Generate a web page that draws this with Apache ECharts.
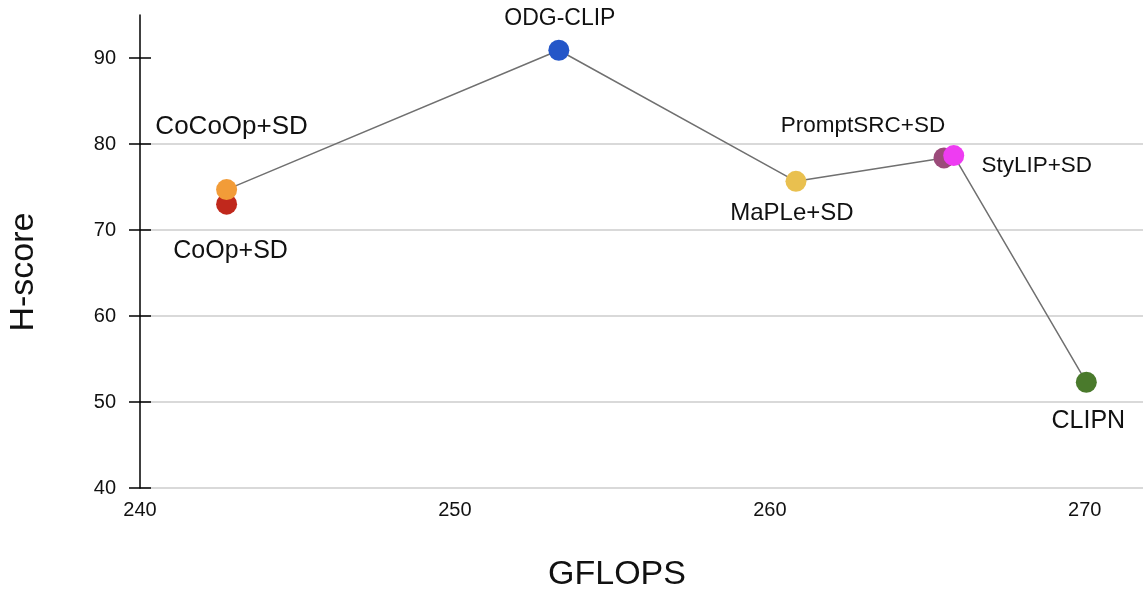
<!DOCTYPE html>
<html>
<head>
<meta charset="utf-8">
<script src="https://cdn.jsdelivr.net/npm/echarts@6/dist/echarts.min.js"></script>
<style>
html,body{margin:0;padding:0;background:#fff;}
#chart{width:1143px;height:592px;}
</style>
</head>
<body>
<div id="chart"></div>
<script>
// ---- data ----
const methods = ['CoOp+SD', 'CoCoOp+SD', 'ODG-CLIP', 'MaPLe+SD', 'PromptSRC+SD', 'StyLIP+SD', 'CLIPN'];
const gflops  = [242.75, 242.75, 253.3, 260.83, 265.53, 265.84, 270.05];
const hscore  = [73.0, 74.7, 90.9, 75.66, 78.38, 78.65, 52.3];
const lineOrder = ['CoCoOp+SD', 'ODG-CLIP', 'MaPLe+SD', 'PromptSRC+SD', 'StyLIP+SD', 'CLIPN'];
const xTicks = [240, 250, 260, 270];
const yTicks = [40, 50, 60, 70, 80, 90];

// ---- styles ----
const FONT = '"Liberation Sans", Arial, Helvetica, sans-serif';
const pointColors = {
  'CoOp+SD': '#c0281c',
  'CoCoOp+SD': '#f29c38',
  'ODG-CLIP': '#2456c8',
  'MaPLe+SD': '#e9c04f',
  'PromptSRC+SD': '#9b4b7a',
  'StyLIP+SD': '#ee3cf2',
  'CLIPN': '#4a7a2c'
};
const labelStyle = {
  'CoOp+SD':      {offset: [4, 47],  size: 25},
  'CoCoOp+SD':    {offset: [5, -63], size: 26},
  'ODG-CLIP':     {offset: [1, -32], size: 23},
  'MaPLe+SD':     {offset: [-4, 32], size: 24},
  'PromptSRC+SD': {offset: [-81, -32], size: 22.5},
  'StyLIP+SD':    {offset: [83, 10], size: 22.5},
  'CLIPN':        {offset: [2, 39],  size: 25}
};

const idx = name => methods.indexOf(name);
const lineData = lineOrder.map(n => [gflops[idx(n)], hscore[idx(n)]]);

const scatterSeries = methods.map((m, i) => ({
  type: 'scatter',
  name: m,
  z: 3 + i,
  symbol: 'circle',
  symbolSize: 21,
  itemStyle: {color: pointColors[m], opacity: 1},
  data: [[gflops[i], hscore[i]]],
  label: {
    show: true,
    formatter: m,
    position: 'inside',
    offset: labelStyle[m].offset,
    color: '#111',
    fontFamily: FONT,
    fontSize: labelStyle[m].size
  },
  emphasis: {disabled: true}
}));

const chart = echarts.init(document.getElementById('chart'), null, {renderer: 'canvas'});
const yCommon = {
  type: 'value', min: 40, max: 95, interval: 10, position: 'left'
};
chart.setOption({
  animation: false,
  backgroundColor: '#ffffff',
  grid: {left: 140, right: 0, top: 15, bottom: 104, containLabel: false},
  xAxis: {
    type: 'value', min: 240, max: 271.85, interval: 10,
    axisLine: {show: false},
    axisTick: {show: false},
    splitLine: {show: false},
    axisLabel: {
      customValues: xTicks,
      margin: 12,
      color: '#111',
      fontFamily: FONT,
      fontSize: 20
    }
  },
  yAxis: [
    Object.assign({}, yCommon, {
      axisLine: {show: true, lineStyle: {color: '#000', width: 1.5}},
      axisTick: {show: true, inside: false, length: 11, customValues: yTicks, lineStyle: {color: '#000', width: 1.5}},
      axisLabel: {customValues: yTicks, margin: 24, color: '#111', fontFamily: FONT, fontSize: 20},
      splitLine: {show: true, showMaxLine: false, lineStyle: {color: '#cccccc', width: 1.5}}
    }),
    Object.assign({}, yCommon, {
      axisLine: {show: false},
      axisTick: {show: true, inside: true, length: 11, customValues: yTicks, lineStyle: {color: '#000', width: 1.5}},
      axisLabel: {show: false},
      splitLine: {show: false}
    })
  ],
  graphic: [
    {
      type: 'text', x: 617, y: 575, z: 10,
      style: {text: 'GFLOPS', font: '34px ' + FONT, fill: '#111', textAlign: 'center', textVerticalAlign: 'middle'}
    },
    {
      type: 'text', x: 24, y: 272, rotation: Math.PI / 2, z: 10,
      style: {text: 'H-score', font: '34px ' + FONT, fill: '#111', textAlign: 'center', textVerticalAlign: 'middle'}
    }
  ],
  series: [
    {
      type: 'line',
      data: lineData,
      symbol: 'none',
      z: 2,
      lineStyle: {color: '#707070', width: 1.5},
      emphasis: {disabled: true}
    }
  ].concat(scatterSeries)
});
</script>
</body>
</html>
